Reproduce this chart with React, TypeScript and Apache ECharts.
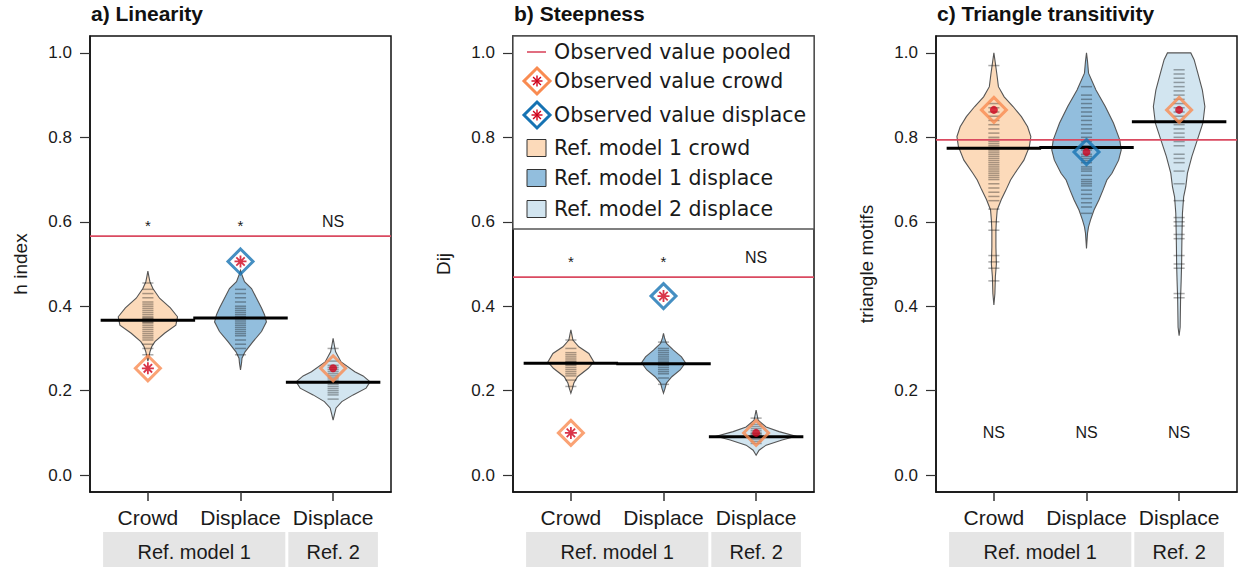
import React, { useEffect, useRef } from "react";
import * as echarts from "echarts";

// ---------- data ----------
const categories = ["Crowd", "Displace", "Displace"];
const categoryPositions = [1, 2, 3];
const stripLabels = ["Ref. model 1", "Ref. 2"];
const stripGroups = [[1, 2], [3, 3]];
const panelTitles = ["a) Linearity", "b) Steepness", "c) Triangle transitivity"];
const yAxisNames = ["h index", "Dij", "triangle motifs"];
const yTicks = [0, 0.2, 0.4, 0.6, 0.8, 1.0];
const legendLabels = [
  "Observed value pooled",
  "Observed value crowd",
  "Observed value displace",
  "Ref. model 1 crowd",
  "Ref. model 1 displace",
  "Ref. model 2 displace",
];

const pooledValues = [0.566, 0.469, 0.794];

const linearityMeans = [0.367, 0.372, 0.22];
const steepnessMeans = [0.265, 0.264, 0.091];
const transitivityMeans = [0.774, 0.776, 0.837];

const linearityObserved = [0.253, 0.506, 0.253];
const steepnessObserved = [0.1, 0.424, 0.1];
const transitivityObserved = [0.865, 0.765, 0.865];
const observedKinds = ["crowd", "displace", "crowd"];
const linearityMarkers = ["asterisk", "asterisk", "dot"];
const steepnessMarkers = ["asterisk", "asterisk", "dot"];
const transitivityMarkers = ["dot", "dot", "dot"];

const linearitySig = ["*", "*", "NS"];
const steepnessSig = ["*", "*", "NS"];
const transitivitySig = ["NS", "NS", "NS"];
const sigLevels = [0.6, 0.515, 0.1];

// bean outlines: [value, half-width in x units]
const linearityCrowdBean = [[0.27,0],[0.28,0.011],[0.292,0.022],[0.305,0.043],[0.316,0.076],[0.336,0.18],[0.355,0.302],[0.375,0.32],[0.396,0.243],[0.419,0.126],[0.442,0.054],[0.458,0.022],[0.47,0.011],[0.483,0]];
const linearityDisplaceBean = [[0.249,0],[0.265,0.011],[0.277,0.016],[0.292,0.049],[0.316,0.135],[0.34,0.227],[0.363,0.28],[0.38,0.259],[0.396,0.227],[0.419,0.173],[0.442,0.119],[0.458,0.043],[0.474,0.016],[0.485,0]];
const linearityRef2Bean = [[0.13,0],[0.145,0.016],[0.159,0.032],[0.174,0.094],[0.19,0.216],[0.206,0.356],[0.221,0.399],[0.235,0.324],[0.245,0.234],[0.268,0.086],[0.292,0.027],[0.31,0.011],[0.324,0]];
const steepnessCrowdBean = [[0.194,0],[0.205,0.016],[0.218,0.032],[0.233,0.072],[0.253,0.189],[0.268,0.248],[0.288,0.194],[0.304,0.086],[0.32,0.022],[0.332,0.011],[0.344,0]];
const steepnessDisplaceBean = [[0.194,0],[0.205,0.016],[0.218,0.032],[0.233,0.09],[0.249,0.18],[0.266,0.237],[0.28,0.194],[0.296,0.108],[0.312,0.032],[0.325,0.011],[0.336,0]];
const steepnessRef2Bean = [[0.047,0],[0.059,0.032],[0.071,0.108],[0.083,0.28],[0.092,0.43],[0.103,0.248],[0.114,0.108],[0.13,0.022],[0.142,0.011],[0.154,0]];
const transitivityCrowdBean = [[0.403,0],[0.43,0.011],[0.47,0.016],[0.5,0.027],[0.54,0.022],[0.58,0.022],[0.604,0.027],[0.628,0.036],[0.652,0.079],[0.675,0.13],[0.699,0.18],[0.715,0.227],[0.746,0.324],[0.778,0.383],[0.802,0.399],[0.825,0.364],[0.849,0.297],[0.873,0.207],[0.896,0.111],[0.92,0.049],[0.95,0.032],[0.975,0.016],[1.0,0]];
const transitivityDisplaceBean = [[0.537,0],[0.573,0.011],[0.588,0.022],[0.604,0.043],[0.628,0.081],[0.652,0.135],[0.675,0.178],[0.699,0.22],[0.715,0.275],[0.746,0.347],[0.77,0.375],[0.794,0.359],[0.834,0.291],[0.873,0.203],[0.912,0.102],[0.952,0.022],[0.98,0.011],[1.0,0]];
const transitivityRef2Bean = [[0.33,0],[0.35,0.011],[0.42,0.016],[0.46,0.022],[0.5,0.027],[0.54,0.029],[0.581,0.032],[0.62,0.036],[0.659,0.049],[0.683,0.072],[0.715,0.09],[0.755,0.138],[0.794,0.197],[0.834,0.257],[0.873,0.278],[0.912,0.251],[0.952,0.202],[0.984,0.162],[1.0,0.126]];

// individual bean lines (reference model values)
const linearityCrowdLines = [0.285,0.3,0.31,0.32,0.325,0.33,0.335,0.34,0.345,0.35,0.355,0.36,0.362,0.365,0.37,0.372,0.375,0.38,0.385,0.39,0.395,0.4,0.405,0.41,0.42,0.43,0.44,0.455];
const linearityDisplaceLines = [0.285,0.3,0.31,0.32,0.33,0.335,0.34,0.345,0.35,0.355,0.36,0.365,0.37,0.375,0.38,0.385,0.39,0.395,0.4,0.41,0.42,0.43,0.44];
const linearityRef2Lines = [0.18,0.19,0.195,0.2,0.205,0.21,0.215,0.22,0.225,0.23,0.235,0.24,0.245,0.25,0.255,0.26,0.27,0.3];
const steepnessCrowdLines = [0.21,0.225,0.235,0.24,0.245,0.25,0.255,0.26,0.262,0.265,0.268,0.27,0.275,0.28,0.285,0.29,0.3,0.32];
const steepnessDisplaceLines = [0.215,0.23,0.24,0.245,0.25,0.255,0.26,0.263,0.266,0.27,0.275,0.28,0.285,0.29,0.295,0.3,0.315];
const steepnessRef2Lines = [0.075,0.08,0.085,0.088,0.09,0.093,0.095,0.098,0.1,0.105,0.11,0.115,0.12,0.135];
const transitivityCrowdLines = [0.46,0.49,0.505,0.52,0.58,0.6,0.63,0.65,0.66,0.67,0.68,0.69,0.7,0.705,0.71,0.715,0.72,0.725,0.73,0.735,0.74,0.745,0.75,0.755,0.76,0.765,0.77,0.775,0.78,0.785,0.79,0.795,0.8,0.81,0.82,0.83,0.84,0.85,0.86,0.87,0.88,0.97];
const transitivityDisplaceLines = [0.62,0.635,0.645,0.655,0.665,0.675,0.685,0.69,0.695,0.7,0.71,0.72,0.725,0.73,0.74,0.745,0.75,0.755,0.76,0.77,0.775,0.78,0.79,0.8,0.81,0.82,0.83,0.84,0.85,0.86,0.87,0.88,0.89,0.9,0.92];
const transitivityRef2Lines = [0.42,0.43,0.49,0.5,0.52,0.56,0.57,0.59,0.6,0.61,0.65,0.69,0.72,0.74,0.75,0.76,0.78,0.79,0.8,0.81,0.82,0.83,0.84,0.85,0.86,0.87,0.88,0.89,0.9,0.91,0.92,0.93,0.94,0.95,0.96];

// ---------- styling / layout ----------
const FONT = "'Liberation Sans', Arial, sans-serif";
const LEGEND_FONT = "'DejaVu Sans', Verdana, sans-serif";
const X_MIN = 0.375;
const X_MAX = 3.625;
const Y_MIN = -0.04;
const Y_MAX = 1.04;
const GRID_LEFTS = [90, 513, 936];
const GRID_TOP = 36;
const GRID_W = 301;
const GRID_H = 456;
const BEAN_FILLS = ["#FCDABA", "#92BEDD", "#D2E5F0"];
const BEAN_STROKE = "#555";
const MARKER_COLORS: Record<string, string> = { crowd: "#F98B51", displace: "#1673B3" };
const RED = "#D0021B";
const POOLED_COLOR = "#DA4A60";
const TEXT = "#1a1a1a";
const ASTERISK_PATH = "path://M6 0L6 12M0 6L12 6M1.8 1.8L10.2 10.2M1.8 10.2L10.2 1.8";

const panels = [
  {
    means: linearityMeans, observed: linearityObserved, markers: linearityMarkers, sig: linearitySig,
    beans: [linearityCrowdBean, linearityDisplaceBean, linearityRef2Bean],
    lines: [linearityCrowdLines, linearityDisplaceLines, linearityRef2Lines],
  },
  {
    means: steepnessMeans, observed: steepnessObserved, markers: steepnessMarkers, sig: steepnessSig,
    beans: [steepnessCrowdBean, steepnessDisplaceBean, steepnessRef2Bean],
    lines: [steepnessCrowdLines, steepnessDisplaceLines, steepnessRef2Lines],
  },
  {
    means: transitivityMeans, observed: transitivityObserved, markers: transitivityMarkers, sig: transitivitySig,
    beans: [transitivityCrowdBean, transitivityDisplaceBean, transitivityRef2Bean],
    lines: [transitivityCrowdLines, transitivityDisplaceLines, transitivityRef2Lines],
  },
];

function buildOption() {
  const grid = panels.map((_, i) => ({
    left: GRID_LEFTS[i], top: GRID_TOP, width: GRID_W, height: GRID_H,
    show: true, borderColor: "#111", borderWidth: 1.5, backgroundColor: "transparent",
  }));
  const xAxis = panels.map((_, i) => ({
    type: "value", gridIndex: i, min: X_MIN, max: X_MAX,
    axisLine: { show: true, onZero: false, lineStyle: { color: "#111", width: 1.5 } },
    splitLine: { show: false },
    axisTick: { show: true, customValues: categoryPositions, length: 9, lineStyle: { color: "#333", width: 1.5 } },
    axisLabel: {
      customValues: categoryPositions, margin: 15,
      formatter: (v: number) => categories[Math.round(v) - 1] || "",
      fontSize: 21, fontFamily: FONT, color: TEXT,
    },
  }));
  const yAxis = panels.map((_, i) => ({
    type: "value", gridIndex: i, min: Y_MIN, max: Y_MAX,
    name: yAxisNames[i], nameLocation: "middle", nameGap: 60,
    nameTextStyle: { fontSize: 19, fontFamily: FONT, color: TEXT },
    axisLine: { show: true, onZero: false, lineStyle: { color: "#111", width: 1.5 } },
    splitLine: { show: false },
    axisTick: { show: true, customValues: yTicks, length: 10, lineStyle: { color: "#333", width: 1.2 } },
    axisLabel: {
      customValues: yTicks, margin: 18,
      formatter: (v: number) => v.toFixed(1),
      fontSize: 17, fontFamily: FONT, color: TEXT,
    },
  }));
  const title = panelTitles.map((t, i) => ({
    text: t, left: GRID_LEFTS[i] + 1, top: 3, padding: 0,
    textStyle: { fontSize: 21, fontWeight: "bold", fontFamily: FONT, color: "#111" },
  }));

  const series: any[] = [];
  panels.forEach((p, i) => {
    // category strips
    series.push({
      type: "custom", xAxisIndex: i, yAxisIndex: i, z: 1, silent: true,
      data: stripGroups.map((g, k) => [g[0], g[1], k]),
      renderItem: (params: any, api: any) => {
        const first = api.value(0), last = api.value(1), k = api.value(2);
        const x0 = Math.max(X_MIN, first - 0.5), x1 = Math.min(X_MAX, last + 0.5);
        const p0 = api.coord([x0, Y_MIN]);
        const p1 = api.coord([x1, Y_MIN]);
        const left = p0[0] + (x0 > X_MIN ? 1.5 : 0);
        const right = p1[0] - (x1 < X_MAX ? 1.5 : 0);
        const top = p0[1] + 40;
        return {
          type: "group",
          children: [
            { type: "rect", shape: { x: left, y: top, width: right - left, height: 40 }, style: { fill: "#E5E5E5" } },
            {
              type: "text", x: (left + right) / 2, y: top + 20,
              style: { text: stripLabels[k], fontSize: 20, fontFamily: FONT, fill: TEXT, align: "center", verticalAlign: "middle" },
            },
          ],
        };
      },
    });
    // beans
    series.push({
      type: "custom", xAxisIndex: i, yAxisIndex: i, z: 2, silent: true,
      data: categoryPositions.map((pos, g) => [pos, g]),
      renderItem: (params: any, api: any) => {
        const pos = api.value(0), g = api.value(1);
        const prof = p.beans[g];
        const right = prof.map(([v, w]) => api.coord([pos + w, v]));
        const left = prof.slice().reverse().map(([v, w]) => api.coord([pos - w, v]));
        return {
          type: "polygon",
          shape: { points: right.concat(left) },
          style: { fill: BEAN_FILLS[g], stroke: BEAN_STROKE, lineWidth: 1.1 },
        };
      },
    });
    // bean lines
    const lineData: number[][] = [];
    p.lines.forEach((arr, g) => arr.forEach((v) => lineData.push([categoryPositions[g], v])));
    series.push({
      type: "custom", xAxisIndex: i, yAxisIndex: i, z: 3, silent: true,
      data: lineData,
      renderItem: (params: any, api: any) => {
        const pos = api.value(0), v = api.value(1);
        const a = api.coord([pos - 0.06, v]);
        const b = api.coord([pos + 0.06, v]);
        return {
          type: "line",
          shape: { x1: a[0], y1: a[1], x2: b[0], y2: b[1] },
          style: { stroke: "rgba(20,20,20,0.36)", lineWidth: 1.5 },
        };
      },
    });
    // pooled observed line
    series.push({
      type: "custom", xAxisIndex: i, yAxisIndex: i, z: 4, silent: true,
      data: [[X_MIN, pooledValues[i]]],
      renderItem: (params: any, api: any) => {
        const v = api.value(1);
        const a = api.coord([X_MIN, v]);
        const b = api.coord([X_MAX, v]);
        return { type: "line", shape: { x1: a[0], y1: a[1], x2: b[0], y2: b[1] }, style: { stroke: POOLED_COLOR, lineWidth: 1.6 } };
      },
    });
    // mean lines
    series.push({
      type: "custom", xAxisIndex: i, yAxisIndex: i, z: 5, silent: true,
      data: categoryPositions.map((pos, g) => [pos, p.means[g]]),
      renderItem: (params: any, api: any) => {
        const pos = api.value(0), v = api.value(1);
        const a = api.coord([pos - 0.51, v]);
        const b = api.coord([pos + 0.51, v]);
        return { type: "line", shape: { x1: a[0], y1: a[1], x2: b[0], y2: b[1] }, style: { stroke: "#000", lineWidth: 3 } };
      },
    });
    // observed diamonds
    series.push({
      type: "scatter", xAxisIndex: i, yAxisIndex: i, z: 6, silent: true,
      symbol: "diamond", symbolSize: 25,
      data: categoryPositions.map((pos, g) => ({
        value: [pos, p.observed[g]],
        itemStyle: { color: "rgba(0,0,0,0)", borderColor: MARKER_COLORS[observedKinds[g]], borderWidth: 3 },
      })),
    });
    // observed centers
    series.push({
      type: "scatter", xAxisIndex: i, yAxisIndex: i, z: 7, silent: true,
      data: categoryPositions.map((pos, g) => {
        const ast = p.markers[g] === "asterisk";
        return {
          value: [pos, p.observed[g]],
          symbol: ast ? ASTERISK_PATH : "circle",
          symbolSize: ast ? 12 : 8,
          itemStyle: ast
            ? { color: RED, borderColor: RED, borderWidth: 1.8 }
            : { color: RED, borderWidth: 0 },
        };
      }),
    });
    // significance labels
    series.push({
      type: "custom", xAxisIndex: i, yAxisIndex: i, z: 7, silent: true,
      data: categoryPositions.map((pos, g) => [pos, sigLevels[i], g]),
      renderItem: (params: any, api: any) => {
        const pos = api.value(0), v = api.value(1), g = api.value(2);
        const c = api.coord([pos, v]);
        const txt = p.sig[g];
        const star = txt === "*";
        return {
          type: "text", x: c[0], y: c[1] + (star ? 4 : 0),
          style: { text: txt, fontSize: star ? 15 : 16, fontFamily: FONT, fill: TEXT, align: "center", verticalAlign: "middle" },
        };
      },
    });
  });

  // legend drawn inside panel b
  const lx = GRID_LEFTS[1];
  const ly = GRID_TOP;
  const rows = [16, 45, 79, 112, 142, 173];
  const symX = lx + 24;
  const textX = lx + 41;
  const g: any[] = [];
  g.push({ type: "rect", z: 100, shape: { x: lx, y: ly, width: GRID_W, height: 193 }, style: { fill: "#fff", stroke: "#555", lineWidth: 1.3 } });
  g.push({ type: "line", z: 101, shape: { x1: lx + 14, y1: ly + rows[0], x2: lx + 33, y2: ly + rows[0] }, style: { stroke: POOLED_COLOR, lineWidth: 1.6 } });
  const diamond = (cy: number, color: string) => {
    const r = 13;
    g.push({ type: "polygon", z: 101, shape: { points: [[symX, cy - r], [symX + r, cy], [symX, cy + r], [symX - r, cy]] }, style: { fill: "none", stroke: color, lineWidth: 3 } });
    const a = 5.5, d = 3.9;
    [[0, -a, 0, a], [-a, 0, a, 0], [-d, -d, d, d], [-d, d, d, -d]].forEach(([x1, y1, x2, y2]) =>
      g.push({ type: "line", z: 102, shape: { x1: symX + x1, y1: cy + y1, x2: symX + x2, y2: cy + y2 }, style: { stroke: RED, lineWidth: 1.4 } })
    );
  };
  diamond(ly + rows[1], MARKER_COLORS.crowd);
  diamond(ly + rows[2], MARKER_COLORS.displace);
  [3, 4, 5].forEach((r, k) => {
    g.push({ type: "rect", z: 101, shape: { x: lx + 14, y: ly + rows[r] - 8.5, width: 19, height: 17 }, style: { fill: BEAN_FILLS[k], stroke: "#333", lineWidth: 1 } });
  });
  legendLabels.forEach((t, k) => {
    g.push({ type: "text", z: 101, x: textX, y: ly + rows[k], style: { text: t, fontSize: 20.5, fontFamily: LEGEND_FONT, fill: TEXT, verticalAlign: "middle", align: "left" } });
  });

  return { animation: false, backgroundColor: "#fff", title, grid, xAxis, yAxis, series, graphic: g };
}

export default function App() {
  const ref = useRef<HTMLDivElement>(null);
  useEffect(() => {
    document.body.style.margin = "0";
    if (!ref.current) return;
    const chart = echarts.init(ref.current, null, { renderer: "svg" });
    chart.setOption(buildOption() as any);
    return () => chart.dispose();
  }, []);
  return <div ref={ref} style={{ width: 1238, height: 567 }} />;
}
